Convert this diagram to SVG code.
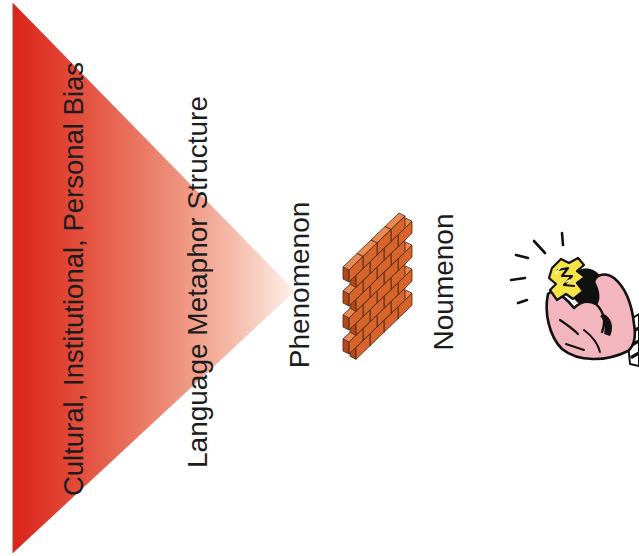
<svg xmlns="http://www.w3.org/2000/svg" xmlns:xlink="http://www.w3.org/1999/xlink" width="639" height="556" viewBox="0 0 639 556">
  <style>
    .label { font-family: "Liberation Sans", Arial, sans-serif; fill: #1c1c1c; text-anchor: middle; }
    .ink { stroke: #111; stroke-linejoin: round; stroke-linecap: round; }
    .ray { stroke: #111; stroke-width: 2.6; stroke-linecap: round; fill: none; }
    .brick-front { fill: #d6642b; }
    .brick-top { fill: #e98a52; }
    .brick-end { fill: #b24a1c; }
    .brick-line { stroke: #4a2410; stroke-width: 0.8; stroke-linejoin: round; }
  </style>
  <defs>
    <linearGradient id="bias-fade" gradientUnits="userSpaceOnUse" x1="13" y1="0" x2="296" y2="0">
      <stop offset="0" stop-color="#da241a"/>
      <stop offset="0.25" stop-color="#e4503e"/>
      <stop offset="0.6" stop-color="#ee9580"/>
      <stop offset="0.8" stop-color="#f6c0b0"/>
      <stop offset="1" stop-color="#fff2ec"/>
    </linearGradient>
    <!-- one brick in oblique view: end face, top face, front face -->
    <g id="brick" class="brick-line">
      <polygon class="brick-end" points="0,0 -6,-3 -6,9 0,12"/>
      <polygon class="brick-top" points="0,0 14,-13.5 8,-16.5 -6,-3"/>
      <polygon class="brick-front" points="0,0 14,-13.5 14,-1.5 0,12"/>
    </g>
  </defs>

  <rect width="639" height="556" fill="#ffffff"/>

  <!-- wedge of filters -->
  <g id="wedge">
    <polygon points="13,3 295,291 13,553" fill="url(#bias-fade)"/>
    <line x1="12.5" y1="3" x2="12.5" y2="553" stroke="#c9a9a0" stroke-width="1"/>
  </g>

  <g id="label-bias">
    <text class="label" font-size="27.5" transform="translate(83,279) rotate(-90)">Cultural, Institutional, Personal Bias</text>
  </g>
  <g id="label-language">
    <text class="label" font-size="28" transform="translate(207,282) rotate(-90)">Language Metaphor Structure</text>
  </g>
  <g id="label-phenomenon">
    <text class="label" font-size="28" transform="translate(309,285) rotate(-90)">Phenomenon</text>
  </g>
  <g id="label-noumenon">
    <text class="label" font-size="28" transform="translate(453,282) rotate(-90)">Noumenon</text>
  </g>

  <!-- brick wall, drawn back to front -->
  <g id="wall">
    <use xlink:href="#brick" x="398" y="306.75"/>
    <use xlink:href="#brick" x="384" y="320.25"/>
    <use xlink:href="#brick" x="370" y="333.75"/>
    <use xlink:href="#brick" x="356" y="347.25"/>

    <use xlink:href="#brick" x="391" y="301.5"/>
    <use xlink:href="#brick" x="377" y="315"/>
    <use xlink:href="#brick" x="363" y="328.5"/>
    <use xlink:href="#brick" x="349" y="342"/>

    <use xlink:href="#brick" x="398" y="282.75"/>
    <use xlink:href="#brick" x="384" y="296.25"/>
    <use xlink:href="#brick" x="370" y="309.75"/>
    <use xlink:href="#brick" x="356" y="323.25"/>

    <use xlink:href="#brick" x="391" y="277.5"/>
    <use xlink:href="#brick" x="377" y="291"/>
    <use xlink:href="#brick" x="363" y="304.5"/>
    <use xlink:href="#brick" x="349" y="318"/>

    <use xlink:href="#brick" x="398" y="258.75"/>
    <use xlink:href="#brick" x="384" y="272.25"/>
    <use xlink:href="#brick" x="370" y="285.75"/>
    <use xlink:href="#brick" x="356" y="299.25"/>

    <use xlink:href="#brick" x="391" y="253.5"/>
    <use xlink:href="#brick" x="377" y="267"/>
    <use xlink:href="#brick" x="363" y="280.5"/>
    <use xlink:href="#brick" x="349" y="294"/>

    <use xlink:href="#brick" x="398" y="234.75"/>
    <use xlink:href="#brick" x="384" y="248.25"/>
    <use xlink:href="#brick" x="370" y="261.75"/>
    <use xlink:href="#brick" x="356" y="275.25"/>

    <use xlink:href="#brick" x="391" y="229.5"/>
    <use xlink:href="#brick" x="377" y="243"/>
    <use xlink:href="#brick" x="363" y="256.5"/>
    <use xlink:href="#brick" x="349" y="270"/>
  </g>

  <!-- hand holding a glowing bulb -->
  <g id="hand-bulb">
    <g id="rays">
      <line class="ray" x1="562" y1="233" x2="563" y2="245"/>
      <line class="ray" x1="534" y1="241" x2="545" y2="253"/>
      <line class="ray" x1="516" y1="255" x2="528" y2="258"/>
      <line class="ray" x1="511" y1="280" x2="525" y2="278"/>
      <line class="ray" x1="518" y1="303" x2="527" y2="300"/>
    </g>
    <!-- sleeve -->
    <path d="M626,322 L639,314 L639,366 L630,364 Z" fill="#ffffff" class="ink" stroke-width="2"/>
    <path d="M628,334 L639,328 M630,346 L639,341 M632,357 L639,353" class="ink" stroke-width="3.2" fill="none"/>
    <!-- bulb base held in the fingers -->
    <path d="M572,276 C578,266 594,266 600,276 C606,288 602,302 592,306 C582,309 572,300 570,290 Z" fill="#111"/>
    <!-- fist -->
    <path d="M548,294 C544,312 549,336 562,349 C578,362 606,362 628,351 C634,346 636,336 634,324 C632,305 626,288 614,278 C606,272 596,274 594,282 C598,290 600,298 596,304 C588,300 580,302 574,308 C568,300 560,294 552,291 Z" fill="#f3b6be" class="ink" stroke-width="2.6"/>
    <path d="M596,304 C604,312 606,322 602,332" fill="none" class="ink" stroke-width="2.4"/>
    <path d="M604,314 C612,318 614,328 610,336 L604,334 C606,326 604,320 600,316 Z" fill="#111"/>
    <path d="M560,320 C566,324 572,328 578,334" fill="none" class="ink" stroke-width="2.2"/>
    <path d="M566,344 C572,346 578,348 584,350" fill="none" class="ink" stroke-width="2"/>
    <path d="M584,330 C592,336 598,344 600,352" fill="none" class="ink" stroke-width="2"/>
    <!-- bulb glass -->
    <path d="M552,268 L561,259 L569,263 L578,258 L584,265 L577,271 L585,277 L577,283 L583,291 L573,299 L566,294 L557,300 L550,290 L556,284 L549,278 Z" fill="#f4e445" class="ink" stroke-width="2.2"/>
    <path d="M558,270 L568,268 L562,276 L572,276 L564,285 L574,286" fill="none" class="ink" stroke-width="2.2"/>
    <path d="M556,273 L560,268 M566,282 L570,280" fill="none" stroke="#fffbd0" stroke-width="1.5" stroke-linecap="round"/>
  </g>
</svg>
